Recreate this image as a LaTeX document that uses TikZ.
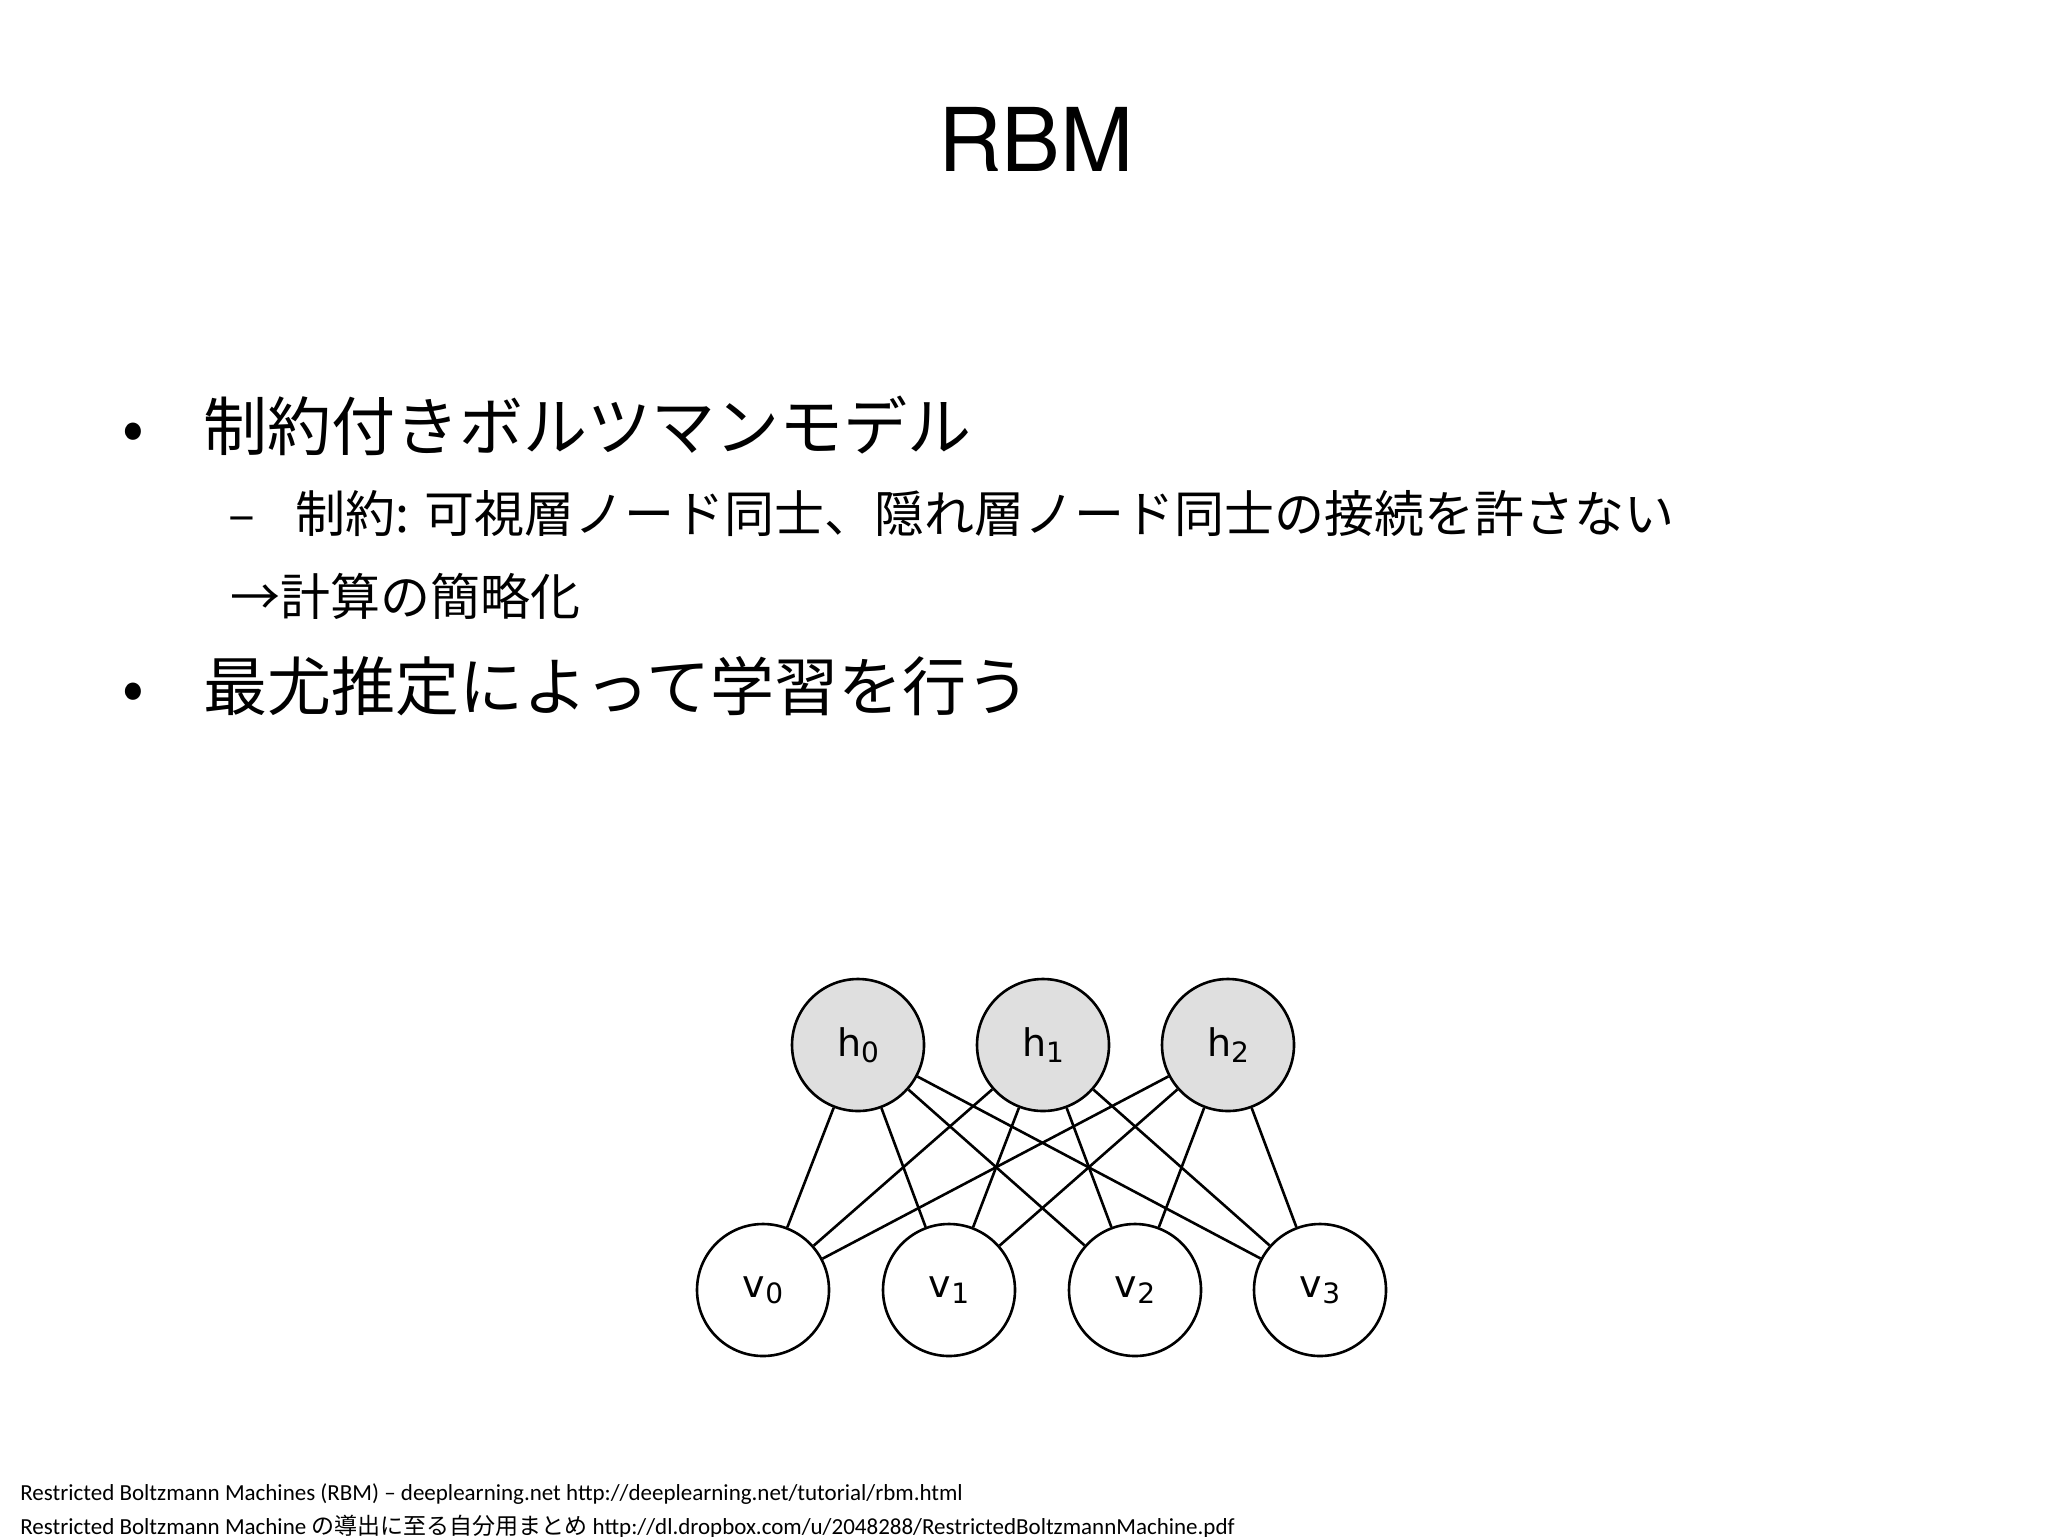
\documentclass[tikz,border=0pt]{standalone}
\usepackage{fontspec}
\setmainfont{TeX Gyre Heros}
\newfontfamily\jp{Noto Sans CJK JP}
\newfontfamily\ft{Carlito}
\newfontfamily\djv{DejaVu Sans}
\begin{document}
\begin{tikzpicture}[x=0.5pt,y=-0.5pt,
  unit/.style={circle,draw,line width=1.3pt,minimum size=66pt,inner sep=0pt,font=\djv\fontsize{19}{19}\selectfont},
  hid/.style={unit,fill=gray!25},
  vis/.style={unit,fill=white},
  bul/.style={anchor=base west,inner sep=0pt},
  edge/.style={line width=1.3pt}]
\useasboundingbox (0,0) rectangle (2048,1536);
\node[inner sep=0pt,font=\fontsize{44}{44}\selectfont] (title) at (1036,139) {RBM};
\node[bul,font=\jp\fontsize{32}{32}\selectfont] (b1d) at (122,450) {•};
\node[bul,font=\jp\fontsize{32}{32}\selectfont] (b1) at (203,450) {制約付きボルツマンモデル};
\node[bul,font=\jp\fontsize{25}{25}\selectfont] (s1d) at (228,532) {–};
\node[bul,font=\jp\fontsize{25}{25}\selectfont] (s1) at (295,532) {制約: 可視層ノード同士、隠れ層ノード同士の接続を許さない};
\node[bul,font=\jp\fontsize{25}{25}\selectfont] (s2) at (230,615) {→計算の簡略化};
\node[bul,font=\jp\fontsize{32}{32}\selectfont] (b2d) at (122,710) {•};
\node[bul,font=\jp\fontsize{32}{32}\selectfont] (b2) at (203,710) {最尤推定によって学習を行う};
\node[hid] (h0) at (858,1045) {h\raisebox{-0.3ex}{\fontsize{14}{14}\selectfont 0}};
\node[hid] (h1) at (1043,1045) {h\raisebox{-0.3ex}{\fontsize{14}{14}\selectfont 1}};
\node[hid] (h2) at (1228,1045) {h\raisebox{-0.3ex}{\fontsize{14}{14}\selectfont 2}};
\node[vis] (v0) at (763,1290) {v\raisebox{-0.3ex}{\fontsize{14}{14}\selectfont 0}};
\node[vis] (v1) at (949,1290) {v\raisebox{-0.3ex}{\fontsize{14}{14}\selectfont 1}};
\node[vis] (v2) at (1135,1290) {v\raisebox{-0.3ex}{\fontsize{14}{14}\selectfont 2}};
\node[vis] (v3) at (1320,1290) {v\raisebox{-0.3ex}{\fontsize{14}{14}\selectfont 3}};
\foreach \h in {h0,h1,h2}{\foreach \v in {v0,v1,v2,v3}{\draw[edge] (\h) -- (\v);}}
\node[bul,font=\ft\fontsize{11.5}{11.5}\selectfont] (f1) at (20,1500) {Restricted Boltzmann Machines (RBM) – deeplearning.net http://deeplearning.net/tutorial/rbm.html};
\node[bul,font=\ft\fontsize{11.5}{11.5}\selectfont] (f2) at (20,1534) {Restricted Boltzmann Machine {\jp の導出に至る自分用まとめ} http://dl.dropbox.com/u/2048288/RestrictedBoltzmannMachine.pdf};
\end{tikzpicture}
\end{document}
